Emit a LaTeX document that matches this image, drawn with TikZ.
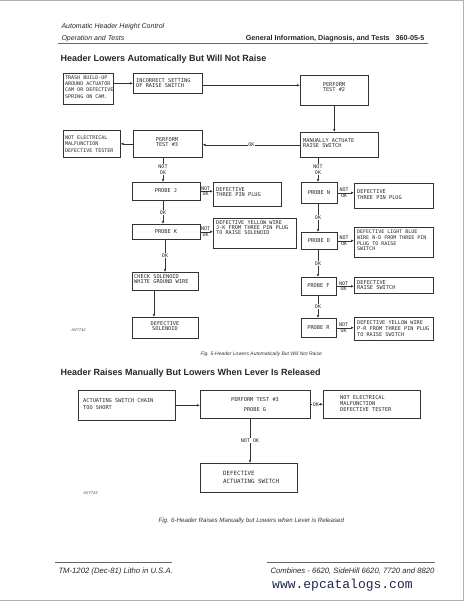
\documentclass[tikz,border=0pt]{standalone}
\usepackage{fontspec}
\setmainfont{Liberation Sans}
\newfontfamily\boxfont{DejaVu Sans Mono}
\newfontfamily\urlfont{Liberation Mono}
\usetikzlibrary{arrows.meta}
\definecolor{urlblue}{RGB}{30,40,80}
\newcommand\flbox[5]{%
  \pgfmathsetmacro\bxw{#4-#2}\pgfmathsetmacro\bxh{#5-#3}%
  \node[box, minimum width=\bxw pt, minimum height=\bxh pt] (#1) at (#2,#3) {};}
\begin{document}
\begin{tikzpicture}[x=1pt,y=-1pt,
  box/.style={draw=black!80, line width=0.6pt, anchor=north west, inner sep=0pt},
  bt/.style={font=\boxfont\fontsize{5.3}{5.8}\selectfont, text=black!85, inner sep=0pt, align=left, anchor=west},
  bc/.style={bt, align=center, anchor=center},
  arr/.style={draw=black!80, line width=0.6pt, -{Latex[length=3pt,width=2.6pt]}},
  lab/.style={font=\boxfont\fontsize{5}{5.8}\selectfont, text=black!85, fill=white, inner sep=0.6pt, align=center},
  sm/.style={font=\boxfont\fontsize{5}{5.8}\selectfont, text=black!85, inner sep=0.5pt},
  hd/.style={anchor=base west, text=black!85},
  figcap/.style={anchor=base west, text=black!80, font=\itshape\fontsize{5}{6}\selectfont},
  rule/.style={draw=black!60, line width=0.5pt}
]
\useasboundingbox (0,0) rectangle (466,602);
\draw[black!30, line width=1pt] (0,0.5) -- (463,0.5) -- (463,600.5) -- (0,600.5);

% header
\node[hd, font=\itshape\fontsize{7}{8}\selectfont] (h1) at (58,29) {Automatic Header Height Control};
\node[hd, font=\itshape\fontsize{7}{8}\selectfont] (h2) at (58,40.5) {Operation and Tests};
\node[anchor=base east, text=black!85, font=\bfseries\fontsize{7.2}{8}\selectfont] (h3) at (428,40.5) {General Information, Diagnosis, and Tests\hspace{6pt}360-05-5};
\draw[rule] (58,43) -- (428,43);
\node[hd, font=\bfseries\fontsize{9}{10}\selectfont] (t1) at (57,61.5) {Header Lowers Automatically But Will Not Raise};

% ---- figure 5 boxes
\flbox{A}{63}{73}{113}{104}
\node[bt, font=\boxfont\fontsize{5}{6.3}\selectfont] (tA) at (65,87) {TRASH BUILD-UP\\AROUND ACTUATOR\\CAM OR DEFECTIVE\\SPRING ON CAM.};
\flbox{B}{133}{73}{202}{93}
\node[bt] (tB) at (136,83) {INCORRECT SETTING\\OF RAISE SWITCH};
\flbox{C}{300}{75}{368}{105}
\node[bc] (tC) at (334,87) {PERFORM\\TEST \#2};
\flbox{D}{300}{132}{378}{157}
\node[bt] (tD) at (303,143) {MANUALLY ACTUATE\\RAISE SWITCH};
\flbox{E}{133}{130}{202}{157}
\node[bc] (tE) at (167,142) {PERFORM\\TEST \#3};
\flbox{F}{63}{130}{120}{157}
\node[bt, font=\boxfont\fontsize{5}{6.3}\selectfont] (tF) at (65,144) {NOT ELECTRICAL\\MALFUNCTION\\DEFECTIVE TESTER};
\flbox{J}{132}{182}{200}{200}
\node[bc] (tJ) at (166,191) {PROBE J};
\flbox{G}{213}{182}{281}{206}
\node[bt] (tG) at (216,192) {DEFECTIVE\\THREE PIN PLUG};
\flbox{K}{132}{224}{200}{239}
\node[bc] (tK) at (166,231.5) {PROBE K};
\flbox{H}{213}{218}{296}{248}
\node[bt, font=\boxfont\fontsize{5.2}{5}\selectfont] (tH) at (216,228) {DEFECTIVE YELLOW WIRE\\J-K FROM THREE PIN PLUG\\TO RAISE SOLENOID};
\flbox{CS}{132}{272}{198}{290}
\node[bt, font=\boxfont\fontsize{5.3}{5.2}\selectfont] (tCS) at (134,279) {CHECK SOLENOID\\WHITE GROUND WIRE};
\flbox{DS}{132}{317}{198}{338}
\node[bc] (tDS) at (165,326) {DEFECTIVE\\SOLENOID};

\flbox{N}{301}{182}{337}{203}
\node[bc] (tN) at (319,192.5) {PROBE N};
\flbox{I}{354}{183}{433}{208}
\node[bt] (tI) at (357,194.5) {DEFECTIVE\\THREE PIN PLUG};
\flbox{D2}{301}{232}{337}{249}
\node[bc] (tD2) at (319,240.5) {PROBE D};
\flbox{J2}{354}{227}{433}{257}
\node[bt, font=\boxfont\fontsize{5}{5.6}\selectfont] (tJ2) at (357,240.5) {DEFECTIVE LIGHT BLUE\\WIRE N-D FROM THREE PIN\\PLUG TO RAISE\\SWITCH};
\flbox{F2}{301}{277}{336}{295}
\node[bc] (tF2) at (318.5,286) {PROBE F};
\flbox{K2}{354}{277}{433}{293}
\node[bt] (tK2) at (357,285) {DEFECTIVE\\RAISE SWITCH};
\flbox{R}{301}{318}{336}{337}
\node[bc] (tR) at (318.5,327.5) {PROBE R};
\flbox{L2}{354}{317}{433}{340}
\node[bt, font=\boxfont\fontsize{5.2}{6}\selectfont] (tL2) at (357,329) {DEFECTIVE YELLOW WIRE\\P-R FROM THREE PIN PLUG\\TO RAISE SWITCH};

% column coordinates
\coordinate (xe) at (163,0);
\coordinate (xk) at (165,0);
\coordinate (xs) at (154,0);
\coordinate (xd) at (318,0);
\coordinate (xn) at (250,0);

% ---- figure 5 connectors
\draw[arr] (A.east |- B.west) -- (B.west);
\draw[arr] ([yshift=-2pt]B.east) -- ([yshift=-2pt]B.east -| C.west);
\draw[arr] (C.south) -- (C.south |- D.north);
\draw[arr] (D.west) -- node[lab]{OK} (D.west -| E.east);
\draw[arr] (E.west) -- (E.west -| F.east);
\draw[arr] (E.south -| xe) -- node[lab]{NOT\\OK} (J.north -| xe);
\draw[arr] (J.east) -- node[sm, above, pos=0.4]{NOT} node[sm, below, pos=0.4]{OK} (J.east -| G.west);
\draw[arr] (J.south -| xe) -- node[lab]{OK} (K.north -| xe);
\draw[arr] (K.east) -- node[sm, above, pos=0.4]{NOT} node[sm, below, pos=0.4]{OK} (K.east -| H.west);
\draw[arr] (K.south -| xk) -- node[lab]{OK} (CS.north -| xk);
\draw[arr] (CS.south -| xs) -- (DS.north -| xs);

\draw[arr] (D.south -| xd) -- node[lab]{NOT\\OK} (N.north -| xd);
\draw[arr] (N.east) -- node[sm, above, pos=0.4]{NOT} node[sm, below, pos=0.4]{OK} (N.east -| I.west);
\draw[arr] (N.south -| xd) -- node[lab]{OK} (D2.north -| xd);
\draw[arr] (D2.east) -- node[sm, above, pos=0.4]{NOT} node[sm, below, pos=0.4]{OK} (D2.east -| J2.west);
\draw[arr] (D2.south -| xd) -- node[lab]{OK} (F2.north -| xd);
\draw[arr] (F2.east) -- node[sm, above, pos=0.4]{NOT} node[sm, below, pos=0.4]{OK} (F2.east -| K2.west);
\draw[arr] (F2.south -| xd) -- node[lab]{OK} (R.north -| xd);
\draw[arr] (R.east) -- node[sm, above, pos=0.4]{NOT} node[sm, below, pos=0.4]{OK} (R.east -| L2.west);

\node[anchor=west, text=black!70, font=\itshape\fontsize{4}{5}\selectfont] (lb1) at (68,330) {H27742};
\node[figcap] (c1) at (197,355) {Fig. 5-Header Lowers Automatically But Will Not Raise};

% ---- figure 6
\node[hd, font=\bfseries\fontsize{9}{10}\selectfont] (t2) at (57,375.5) {Header Raises Manually But Lowers When Lever Is Released};
\flbox{M}{78}{390}{175}{420}
\node[bt, font=\boxfont\fontsize{5.3}{7}\selectfont] (tM) at (83,404.5) {ACTUATING SWITCH CHAIN\\TOO SHORT};
\flbox{N3}{200}{390}{310}{418}
\node[bc, font=\boxfont\fontsize{5.3}{10}\selectfont] (tN3) at (255,405) {PERFORM TEST \#3\\PROBE G};
\flbox{O}{323}{390}{420}{418}
\node[bt, font=\boxfont\fontsize{5.3}{6}\selectfont] (tO) at (340,404) {NOT ELECTRICAL\\MALFUNCTION\\DEFECTIVE TESTER};
\flbox{P}{200}{463}{297}{492}
\node[bt, font=\boxfont\fontsize{5.8}{8}\selectfont] (tP) at (223,477) {DEFECTIVE\\ACTUATING SWITCH};

\draw[arr] (M.east) -- (M.east -| N3.west);
\draw[arr] (N3.east) -- node[lab, pos=0.42]{OK} (N3.east -| O.west);
\draw[arr] (N3.south -| xn) -- node[lab]{NOT OK} (P.north -| xn);

\node[anchor=west, text=black!70, font=\itshape\fontsize{4}{5}\selectfont] (lb2) at (80,493) {H27743};
\node[figcap, font=\itshape\fontsize{6.2}{7}\selectfont] (c2) at (155,522) {Fig. 6-Header Raises Manually but Lowers when Lever is Released};

% footer
\draw[rule] (55,562) -- (172,562);
\draw[rule] (267,562) -- (435,562);
\node[hd, font=\itshape\fontsize{7.7}{8}\selectfont] (f1) at (55,573) {TM-1202 (Dec-81) Litho in U.S.A.};
\node[hd, font=\itshape\fontsize{7.7}{8}\selectfont] (f2) at (267,573) {Combines - 6620, SideHill 6620, 7720 and 8820};
\node[anchor=west, inner sep=0pt, text=urlblue, font=\urlfont\fontsize{13}{14}\selectfont] (url) at (272,585) {www.epcatalogs.com};
\end{tikzpicture}
\end{document}
